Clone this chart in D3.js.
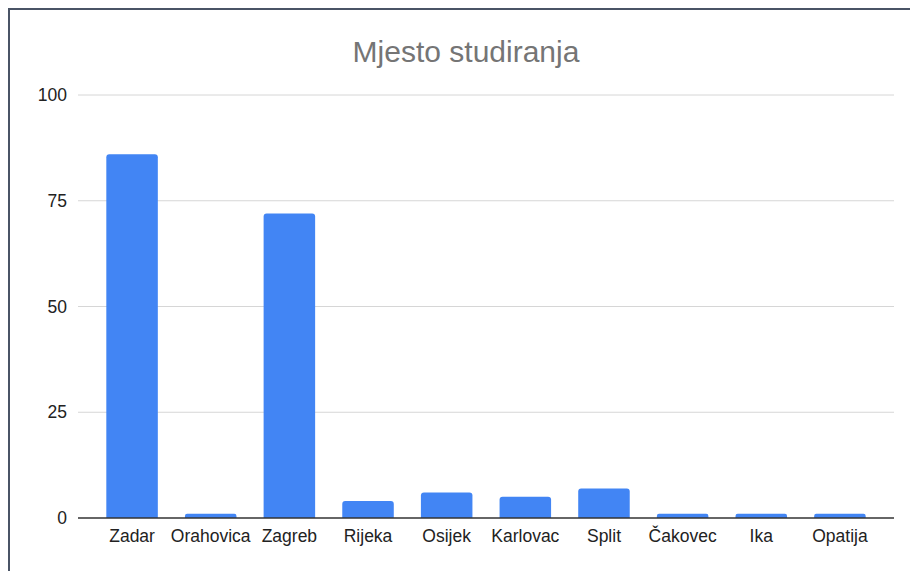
<!DOCTYPE html>
<title>Mjesto studiranja</title>
<meta charset="utf-8">
<style>
  body { margin: 0; background: #fff; font-family: Arial, "Liberation Sans", sans-serif; }
  .grid line { stroke: #d6d6d6; stroke-width: 1px; }
  .axis text { font-size: 17.5px; fill: #222; }
  .bar { fill: #4285f4; }
</style>
<body>
<div id="chart"></div>
<script src="https://d3js.org/d3.v7.min.js"></script>
<script>

// data
var cities = ["Zadar", "Orahovica", "Zagreb", "Rijeka", "Osijek", "Karlovac", "Split", "Čakovec", "Ika", "Opatija"];
var counts = [86, 1, 72, 4, 6, 5, 7, 1, 1, 1];
var yTicks = [0, 25, 50, 75, 100];

var W = 910, H = 571;
var margin = {top: 95, right: 16, bottom: 53, left: 78},
    width = W - margin.left - margin.right,   // 816
    height = H - margin.top - margin.bottom;  // 423

var svg = d3.select("#chart").append("svg")
    .attr("width", W)
    .attr("height", H);

// outer frame (runs off the bottom / right edge)
svg.append("rect")
    .attr("x", 9).attr("y", 9)
    .attr("width", 1000).attr("height", 1000)
    .attr("fill", "none")
    .attr("stroke", "#4a5466")
    .attr("stroke-width", 2);

// title
svg.append("text")
    .attr("x", 466)
    .attr("y", 62)
    .attr("text-anchor", "middle")
    .style("font-size", "30px")
    .style("fill", "#757575")
    .text("Mjesto studiranja");

var g = svg.append("g")
    .attr("transform", "translate(" + margin.left + "," + margin.top + ")");

var x = d3.scaleBand()
    .domain(cities)
    .range([0, width])
    .paddingInner(0.345)
    .paddingOuter(0.36);

var y = d3.scaleLinear()
    .domain([0, 100])
    .range([height, 0]);

// gridlines
g.append("g")
    .attr("class", "grid")
    .selectAll("line")
    .data(yTicks.filter(function(d) { return d > 0; }))
    .enter().append("line")
    .attr("x1", 0).attr("x2", width)
    .attr("y1", function(d) { return y(d); })
    .attr("y2", function(d) { return y(d); });

// y axis labels
var yAxis = d3.axisLeft(y).tickValues(yTicks).tickSize(0).tickPadding(11);
g.append("g")
    .attr("class", "axis y")
    .call(yAxis)
    .call(function(s) { s.select(".domain").remove(); });

// bars with slightly rounded tops
var r = 3;
function barPath(d, i) {
  var x0 = x(cities[i]), bw = x.bandwidth();
  var y0 = y(d), yb = y(0);
  var rr = Math.min(r, (yb - y0) / 2);
  return "M" + x0 + "," + yb +
    "V" + (y0 + rr) +
    "Q" + x0 + "," + y0 + " " + (x0 + rr) + "," + y0 +
    "H" + (x0 + bw - rr) +
    "Q" + (x0 + bw) + "," + y0 + " " + (x0 + bw) + "," + (y0 + rr) +
    "V" + yb + "Z";
}

g.selectAll(".bar")
    .data(counts)
    .enter().append("path")
    .attr("class", "bar")
    .attr("d", barPath);

// baseline
g.append("line")
    .attr("x1", 0).attr("x2", width)
    .attr("y1", y(0)).attr("y2", y(0))
    .attr("stroke", "#333")
    .attr("stroke-width", 1.5);

// x axis labels
var xAxis = d3.axisBottom(x).tickSize(0).tickPadding(12);
g.append("g")
    .attr("class", "axis x")
    .attr("transform", "translate(0," + height + ")")
    .call(xAxis)
    .call(function(s) { s.select(".domain").remove(); });

g.selectAll(".axis text").style("font-family", "Arial, 'Liberation Sans', sans-serif");

</script>
</body>
